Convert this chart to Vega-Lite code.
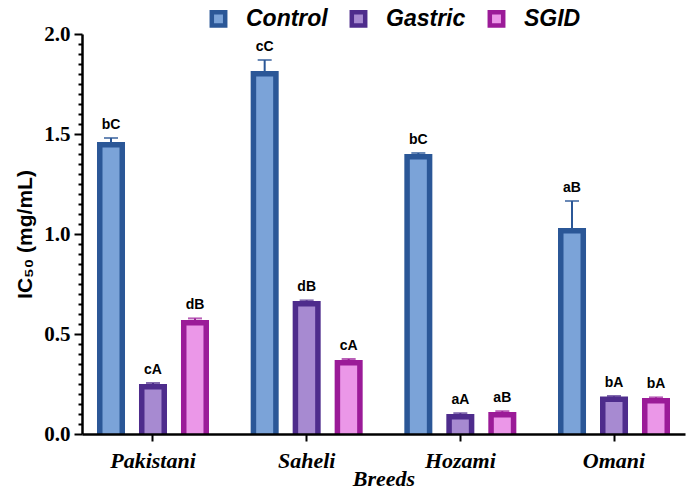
{
  "$schema": "https://vega.github.io/schema/vega-lite/v6.json",
  "autosize": "none",
  "width": 603,
  "height": 400,
  "padding": {"left": 82, "top": 34, "right": 4, "bottom": 56},
  "background": "white",
  "config": {"view": {"stroke": null}},
  "data": {"values": [
    {"breed": "Pakistani", "group": "Control", "value": 1.46, "upper": 1.48, "label": "bC"},
    {"breed": "Pakistani", "group": "Gastric", "value": 0.25, "upper": 0.255, "label": "cA"},
    {"breed": "Pakistani", "group": "SGID", "value": 0.57, "upper": 0.578, "label": "dB"},
    {"breed": "Saheli", "group": "Control", "value": 1.815, "upper": 1.87, "label": "cC"},
    {"breed": "Saheli", "group": "Gastric", "value": 0.665, "upper": 0.668, "label": "dB"},
    {"breed": "Saheli", "group": "SGID", "value": 0.37, "upper": 0.375, "label": "cA"},
    {"breed": "Hozami", "group": "Control", "value": 1.4, "upper": 1.405, "label": "bC"},
    {"breed": "Hozami", "group": "Gastric", "value": 0.1, "upper": 0.104, "label": "aA"},
    {"breed": "Hozami", "group": "SGID", "value": 0.11, "upper": 0.114, "label": "aB"},
    {"breed": "Omani", "group": "Control", "value": 1.03, "upper": 1.165, "label": "aB"},
    {"breed": "Omani", "group": "Gastric", "value": 0.187, "upper": 0.19, "label": "bA"},
    {"breed": "Omani", "group": "SGID", "value": 0.18, "upper": 0.183, "label": "bA"}
  ]},
  "encoding": {
    "x": {
      "field": "breed", "type": "nominal",
      "sort": ["Pakistani", "Saheli", "Hozami", "Omani"],
      "scale": {"paddingInner": 0.307, "paddingOuter": 0.1155},
      "axis": {
        "title": "Breeds", "labelAngle": 0, "zindex": 1,
        "labelFont": "Liberation Serif", "labelFontSize": 22, "labelFontWeight": "bold", "labelFontStyle": "italic", "labelColor": "black", "labelPadding": 9,
        "titleFont": "Liberation Serif", "titleFontSize": 22, "titleFontWeight": "bold", "titleFontStyle": "italic", "titleColor": "black", "titlePadding": -3,
        "domainColor": "black", "domainWidth": 2.5, "tickColor": "black", "tickWidth": 2, "tickSize": 7, "grid": false
      }
    },
    "xOffset": {"field": "group", "type": "nominal", "sort": ["Control", "Gastric", "SGID"], "scale": {"paddingInner": 0.464, "paddingOuter": 0}},
    "y": {
      "field": "value", "type": "quantitative",
      "scale": {"domain": [0, 2], "nice": false},
      "axis": {
        "title": "IC₅₀ (mg/mL)", "zindex": 1,
        "values": [0,0.05,0.1,0.15,0.2,0.25,0.3,0.35,0.4,0.45,0.5,0.55,0.6,0.65,0.7,0.75,0.8,0.85,0.9,0.95,1,1.05,1.1,1.15,1.2,1.25,1.3,1.35,1.4,1.45,1.5,1.55,1.6,1.65,1.7,1.75,1.8,1.85,1.9,1.95,2],
        "labelExpr": "abs(datum.value*2 - round(datum.value*2)) < 0.001 ? format(datum.value, '.1f') : ''",
        "tickSize": {"condition": {"test": "abs(datum.value*2 - round(datum.value*2)) < 0.001", "value": 8}, "value": 4},
        "labelFont": "Liberation Serif", "labelFontSize": 21, "labelFontWeight": "bold", "labelColor": "black", "labelPadding": 4,
        "titleFont": "Liberation Sans", "titleFontSize": 21, "titleFontWeight": "bold", "titleColor": "black", "titlePadding": 8,
        "domainColor": "black", "domainWidth": 2.5, "tickColor": "black", "tickWidth": 2, "grid": false
      }
    }
  },
  "layer": [
    {
      "mark": {"type": "bar", "strokeWidth": 5.5, "yOffset": 2.75, "clip": true, "fillOpacity": 1, "strokeOpacity": 1},
      "encoding": {
        "fill": {
          "field": "group", "type": "nominal",
          "scale": {"domain": ["Control", "Gastric", "SGID"], "range": ["#7ba3d8", "#a78ad1", "#eb97e8"]},
          "legend": {
            "orient": "none", "legendX": 125, "legendY": -27, "direction": "horizontal", "title": null,
            "symbolType": "square", "symbolSize": 180, "symbolStrokeWidth": 4.5, "symbolOpacity": 1,
            "labelFont": "Liberation Sans", "labelFontSize": 23, "labelFontWeight": "bold", "labelFontStyle": "italic", "labelColor": "black", "labelOffset": 16,
            "columnPadding": 14
          }
        },
        "stroke": {
          "field": "group", "type": "nominal",
          "scale": {"domain": ["Control", "Gastric", "SGID"], "range": ["#2b5797", "#4e2c8c", "#9b1b98"]},
          "legend": {
            "orient": "none", "legendX": 125, "legendY": -27, "direction": "horizontal", "title": null,
            "symbolType": "square", "symbolSize": 180, "symbolStrokeWidth": 4.5, "symbolOpacity": 1,
            "labelFont": "Liberation Sans", "labelFontSize": 23, "labelFontWeight": "bold", "labelFontStyle": "italic", "labelColor": "black", "labelOffset": 16,
            "columnPadding": 14
          }
        }
      }
    },
    {
      "mark": {"type": "rule", "strokeWidth": 2},
      "encoding": {
        "y": {"field": "value", "type": "quantitative"},
        "y2": {"field": "upper"},
        "color": {
          "field": "group", "type": "nominal",
          "scale": {"domain": ["Control", "Gastric", "SGID"], "range": ["#2b5797", "#4e2c8c", "#9b1b98"]},
          "legend": null
        }
      }
    },
    {
      "mark": {"type": "tick", "size": 14, "thickness": 2},
      "encoding": {
        "y": {"field": "upper", "type": "quantitative"},
        "color": {"field": "group", "type": "nominal", "legend": null}
      }
    },
    {
      "mark": {"type": "text", "baseline": "bottom", "dy": -6, "font": "Liberation Sans", "fontSize": 14, "fontWeight": "bold", "color": "black"},
      "encoding": {
        "y": {"field": "upper", "type": "quantitative"},
        "text": {"field": "label"}
      }
    }
  ]
}
